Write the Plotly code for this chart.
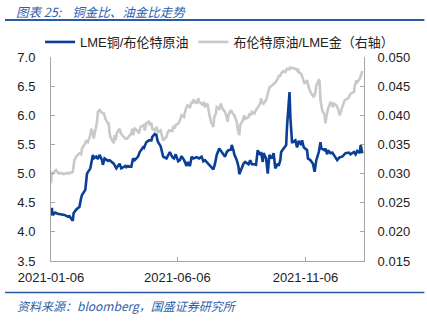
import plotly.graph_objects as go

# LME copper / Brent crude (left axis)
cu_dates = ["2021-01-06","2021-01-07","2021-01-08","2021-01-11","2021-01-14","2021-01-18","2021-01-22","2021-01-26","2021-01-28",
            "2021-02-01","2021-02-02","2021-02-05","2021-02-09","2021-02-11","2021-02-12","2021-02-16","2021-02-18","2021-02-22",
            "2021-02-23","2021-02-25","2021-02-26","2021-03-01","2021-03-03","2021-03-05","2021-03-08","2021-03-09","2021-03-11",
            "2021-03-15","2021-03-17","2021-03-22","2021-03-25","2021-03-29","2021-03-31","2021-04-05","2021-04-06","2021-04-08",
            "2021-04-09","2021-04-12","2021-04-14","2021-04-16","2021-04-20","2021-04-22","2021-04-26","2021-04-27","2021-04-30",
            "2021-05-03","2021-05-06","2021-05-07","2021-05-10","2021-05-12","2021-05-13","2021-05-14","2021-05-17","2021-05-19",
            "2021-05-20","2021-05-24","2021-05-25","2021-05-28","2021-05-31","2021-06-02","2021-06-04","2021-06-07","2021-06-09",
            "2021-06-11","2021-06-14","2021-06-17","2021-06-18","2021-06-21","2021-06-23","2021-06-25","2021-06-29","2021-07-02",
            "2021-07-05","2021-07-07","2021-07-09","2021-07-13","2021-07-15","2021-07-19","2021-07-21","2021-07-23","2021-07-26",
            "2021-07-29","2021-08-02","2021-08-04","2021-08-06","2021-08-09","2021-08-10","2021-08-12","2021-08-13","2021-08-16",
            "2021-08-18","2021-08-19","2021-08-23","2021-08-24","2021-08-26","2021-08-30","2021-09-01","2021-09-03","2021-09-06",
            "2021-09-08","2021-09-10","2021-09-13","2021-09-14","2021-09-16","2021-09-17","2021-09-20","2021-09-22","2021-09-24",
            "2021-09-27","2021-09-29","2021-10-01","2021-10-04","2021-10-05","2021-10-07","2021-10-08","2021-10-11","2021-10-12",
            "2021-10-14","2021-10-15","2021-10-18","2021-10-19","2021-10-21","2021-10-22","2021-10-25","2021-10-27","2021-10-29",
            "2021-11-01","2021-11-02","2021-11-04","2021-11-08","2021-11-09","2021-11-12","2021-11-15","2021-11-17","2021-11-19",
            "2021-11-22","2021-11-24","2021-11-25","2021-11-29","2021-11-30","2021-12-02","2021-12-03","2021-12-06","2021-12-08",
            "2021-12-10","2021-12-13","2021-12-14","2021-12-17","2021-12-20","2021-12-22","2021-12-24","2021-12-28","2021-12-30",
            "2022-01-03","2022-01-05","2022-01-07","2022-01-10","2022-01-11","2022-01-13"]
cu_oil = [4.28,4.41,4.29,4.33,4.31,4.30,4.29,4.26,4.27,
          4.19,4.32,4.38,4.43,4.58,4.63,4.72,5.00,5.09,
          5.17,5.32,5.26,5.29,5.25,5.32,5.23,5.15,5.26,
          5.22,5.23,5.17,5.09,5.17,5.09,5.13,5.11,5.13,
          5.12,5.12,5.26,5.23,5.29,5.37,5.45,5.44,5.54,
          5.57,5.57,5.63,5.68,5.66,5.58,5.54,5.47,5.37,
          5.29,5.26,5.29,5.37,5.28,5.26,5.33,5.21,5.23,
          5.30,5.23,5.13,5.20,5.13,5.29,5.26,5.28,5.26,
          5.29,5.21,5.23,5.16,5.13,5.07,5.17,5.32,5.43,
          5.37,5.29,5.37,5.40,5.41,5.49,5.40,5.33,5.23,
          5.12,4.99,5.12,5.17,5.20,5.16,5.23,5.16,5.16,
          5.15,5.40,5.32,5.37,5.20,5.35,5.26,5.00,5.32,
          5.26,5.35,5.09,5.17,5.13,5.23,5.37,5.43,5.43,
          5.49,5.80,6.40,5.97,5.54,5.54,5.57,5.45,5.56,
          5.49,5.57,5.45,5.40,5.26,5.23,5.17,5.03,5.23,
          5.37,5.54,5.43,5.40,5.43,5.33,5.40,5.35,5.36,
          5.32,5.26,5.23,5.28,5.29,5.32,5.35,5.36,5.33,
          5.37,5.33,5.39,5.35,5.49,5.35]

# Brent crude / LME gold (right axis)
oil_dates = ["2021-01-06","2021-01-07","2021-01-08","2021-01-12","2021-01-15","2021-01-18","2021-01-21","2021-01-25","2021-01-27",
             "2021-01-29","2021-02-01","2021-02-03","2021-02-05","2021-02-09","2021-02-11","2021-02-12","2021-02-16","2021-02-17",
             "2021-02-19","2021-02-22","2021-02-23","2021-02-25","2021-02-26","2021-03-02","2021-03-03","2021-03-05","2021-03-08",
             "2021-03-10","2021-03-12","2021-03-15","2021-03-16","2021-03-17","2021-03-18","2021-03-22","2021-03-23","2021-03-24",
             "2021-03-26","2021-03-29","2021-03-30","2021-04-01","2021-04-05","2021-04-07","2021-04-09","2021-04-12","2021-04-13",
             "2021-04-14","2021-04-16","2021-04-19","2021-04-21","2021-04-23","2021-04-27","2021-04-28","2021-04-30","2021-05-03",
             "2021-05-04","2021-05-06","2021-05-07","2021-05-10","2021-05-12","2021-05-14","2021-05-17","2021-05-18","2021-05-20",
             "2021-05-24","2021-05-25","2021-05-27","2021-05-31","2021-06-01","2021-06-03","2021-06-04","2021-06-07","2021-06-09",
             "2021-06-11","2021-06-14","2021-06-15","2021-06-17","2021-06-18","2021-06-21","2021-06-23","2021-06-24","2021-06-25",
             "2021-06-29","2021-07-01","2021-07-02","2021-07-05","2021-07-06","2021-07-08","2021-07-09","2021-07-12","2021-07-14",
             "2021-07-16","2021-07-19","2021-07-20","2021-07-22","2021-07-23","2021-07-26","2021-07-28","2021-07-30","2021-08-02",
             "2021-08-04","2021-08-05","2021-08-06","2021-08-09","2021-08-11","2021-08-13","2021-08-16","2021-08-17","2021-08-19",
             "2021-08-20","2021-08-23","2021-08-25","2021-08-26","2021-08-30","2021-08-31","2021-09-02","2021-09-03","2021-09-06",
             "2021-09-08","2021-09-10","2021-09-13","2021-09-14","2021-09-15","2021-09-17","2021-09-20","2021-09-21","2021-09-23",
             "2021-09-24","2021-09-27","2021-09-29","2021-10-01","2021-10-04","2021-10-05","2021-10-07","2021-10-08","2021-10-11",
             "2021-10-13","2021-10-15","2021-10-18","2021-10-19","2021-10-21","2021-10-25","2021-10-27","2021-10-28","2021-10-29",
             "2021-11-01","2021-11-03","2021-11-05","2021-11-08","2021-11-09","2021-11-10","2021-11-12","2021-11-15","2021-11-16",
             "2021-11-18","2021-11-19","2021-11-22","2021-11-23","2021-11-24","2021-11-26","2021-11-29","2021-11-30","2021-12-01",
             "2021-12-03","2021-12-06","2021-12-07","2021-12-09","2021-12-10","2021-12-13","2021-12-15","2021-12-16","2021-12-17",
             "2021-12-20","2021-12-22","2021-12-23","2021-12-27","2021-12-29","2021-12-30","2022-01-03","2022-01-04","2022-01-06",
             "2022-01-07","2022-01-10","2022-01-12","2022-01-13"]
oil_gold = [0.0283,0.0303,0.0300,0.0306,0.0300,0.0301,0.0299,0.0301,0.0300,
            0.0301,0.0303,0.0323,0.0329,0.0335,0.0333,0.0343,0.0352,0.0357,
            0.0354,0.0366,0.0377,0.0371,0.0360,0.0389,0.0406,0.0409,0.0404,
            0.0404,0.0394,0.0386,0.0386,0.0369,0.0363,0.0352,0.0366,0.0357,
            0.0371,0.0377,0.0371,0.0366,0.0360,0.0360,0.0363,0.0369,0.0377,
            0.0366,0.0377,0.0374,0.0369,0.0380,0.0383,0.0374,0.0387,0.0389,
            0.0383,0.0387,0.0377,0.0374,0.0380,0.0371,0.0374,0.0366,0.0357,
            0.0363,0.0369,0.0374,0.0373,0.0380,0.0379,0.0383,0.0386,0.0391,
            0.0400,0.0397,0.0406,0.0414,0.0417,0.0414,0.0423,0.0420,0.0427,
            0.0420,0.0429,0.0423,0.0420,0.0417,0.0423,0.0414,0.0420,0.0403,
            0.0389,0.0380,0.0397,0.0403,0.0414,0.0411,0.0420,0.0411,0.0406,
            0.0397,0.0389,0.0400,0.0409,0.0403,0.0400,0.0389,0.0377,0.0366,
            0.0383,0.0391,0.0400,0.0394,0.0397,0.0403,0.0400,0.0406,0.0403,
            0.0409,0.0414,0.0420,0.0429,0.0423,0.0420,0.0426,0.0431,0.0443,
            0.0448,0.0451,0.0454,0.0456,0.0463,0.0467,0.0468,0.0472,0.0476,
            0.0474,0.0480,0.0479,0.0482,0.0481,0.0480,0.0477,0.0480,0.0474,
            0.0471,0.0463,0.0454,0.0460,0.0451,0.0448,0.0440,0.0434,0.0431,
            0.0440,0.0451,0.0460,0.0458,0.0426,0.0409,0.0400,0.0386,0.0397,
            0.0411,0.0423,0.0420,0.0414,0.0420,0.0417,0.0411,0.0403,0.0400,
            0.0414,0.0420,0.0426,0.0429,0.0434,0.0437,0.0440,0.0451,0.0460,
            0.0457,0.0463,0.0471,0.0476]

x_ticks = ["2021-01-06", "2021-06-06", "2021-11-06"]
series_names = ["LME铜/布伦特原油", "布伦特原油/LME金（右轴）"]
title_prefix = "图表 25:"
title_main = "铜金比、油金比走势"
source_text = "资料来源：bloomberg，国盛证券研究所"

BLUE = "#0b3f96"
GRAY = "#c9c9c9"
AXIS = "#a6a6a6"
TXT = "#222222"
HEAD = "#2f5ea8"
FONT = "Liberation Sans, Noto Sans CJK SC, sans-serif"

fig = go.Figure()
fig.add_trace(go.Scatter(x=cu_dates, y=cu_oil, name=series_names[0], mode="lines",
                         line=dict(color=BLUE, width=2.6)))
fig.add_trace(go.Scatter(x=oil_dates, y=oil_gold, name=series_names[1], mode="lines",
                         line=dict(color=GRAY, width=2.6), yaxis="y2"))

fig.update_layout(
    width=427, height=322,
    margin=dict(l=51, r=62.5, t=56.5, b=60.8),
    paper_bgcolor="white", plot_bgcolor="white",
    font=dict(family=FONT, size=13, color=TXT),
    showlegend=True,
    legend=dict(orientation="h", x=-0.035, y=1.0, xanchor="left", yanchor="bottom",
                font=dict(size=13, color=TXT), itemwidth=30, tracegroupgap=0,
                bgcolor="rgba(0,0,0,0)"),
    xaxis=dict(type="date", range=["2021-01-06", "2022-01-15"],
               tickvals=x_ticks, ticktext=x_ticks,
               showline=True, linecolor=AXIS, linewidth=1,
               ticks="inside", ticklen=4, tickcolor=AXIS,
               showgrid=False, zeroline=False, ticklabelstandoff=4,
               tickfont=dict(size=13, color=TXT)),
    yaxis=dict(range=[3.5, 7.0], dtick=0.5, tickformat=".1f",
               showline=True, linecolor=AXIS, linewidth=1,
               ticks="inside", ticklen=4, tickcolor=AXIS,
               showgrid=False, zeroline=False, ticklabelstandoff=12,
               tickfont=dict(size=13, color=TXT)),
    yaxis2=dict(range=[0.015, 0.050], dtick=0.005, tickformat=".3f",
                overlaying="y", side="right",
                showline=True, linecolor=AXIS, linewidth=1,
                ticks="inside", ticklen=4, tickcolor=AXIS,
                showgrid=False, zeroline=False, ticklabelstandoff=10,
                tickfont=dict(size=13, color=TXT)),
    shapes=[
        dict(type="line", xref="paper", yref="paper", x0=-0.147, x1=1.193, y0=1.181, y1=1.181,
             line=dict(color="#2a5aa6", width=2)),
        dict(type="line", xref="paper", yref="paper", x0=-0.147, x1=1.193, y0=-0.154, y1=-0.154,
             line=dict(color="#2a5aa6", width=1.5)),
    ],
    annotations=[
        dict(text="<i>" + title_prefix + "\u00a0\u00a0\u00a0\u00a0" + title_main + "</i>",
             xref="paper", yref="paper", x=-0.115, y=1.274,
             xanchor="left", yanchor="top", showarrow=False, borderpad=0,
             font=dict(family="Noto Sans CJK SC, sans-serif", size=12.5, color=HEAD)),
        dict(text="<i>" + source_text + "</i>", xref="paper", yref="paper", x=-0.115, y=-0.216,
             xanchor="left", yanchor="middle", showarrow=False,
             font=dict(family="Noto Sans CJK SC, sans-serif", size=12, color=HEAD)),
    ],
)

fig.write_html("out.html")
